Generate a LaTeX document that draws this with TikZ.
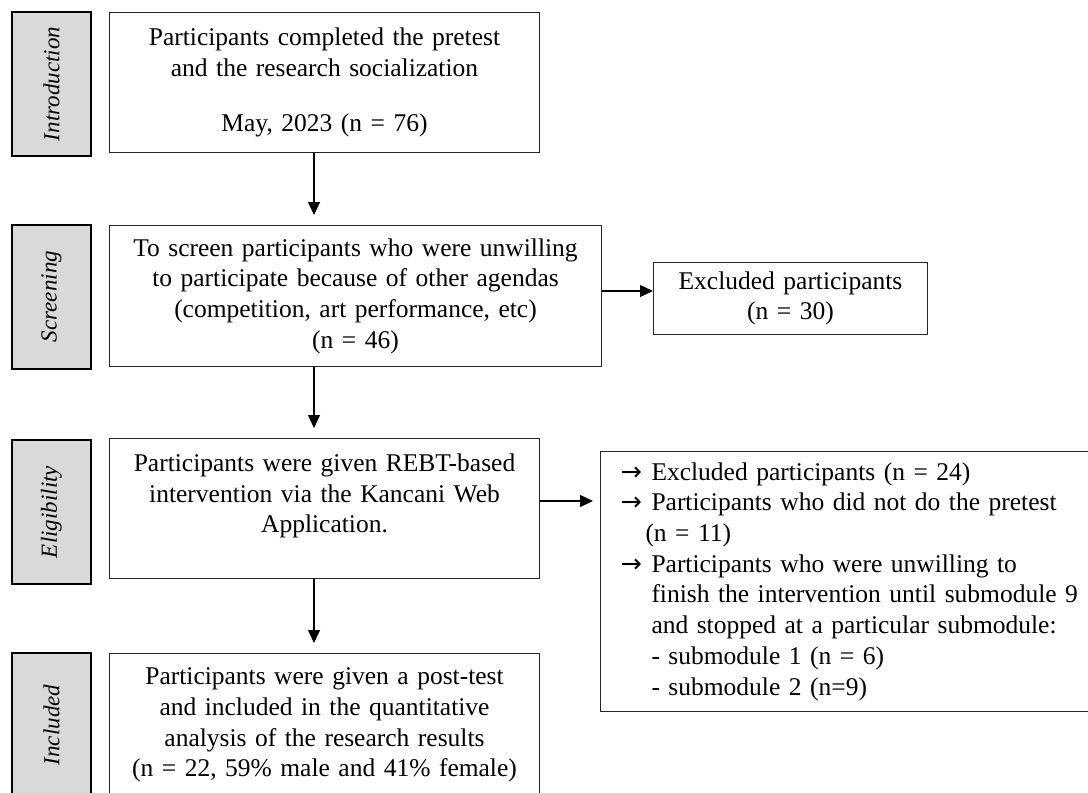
\documentclass[tikz,border=0pt]{standalone}
\usepackage{fontspec}
\setmainfont{Liberation Serif}
\newfontfamily\arrowfont{DejaVu Sans}
\usetikzlibrary{arrows.meta}
\newcommand{\bul}{\makebox[31pt][l]{\arrowfont →}}

\begin{document}
\begin{tikzpicture}[x=1pt,y=-1pt,
  box/.style={draw=black!85,line width=1pt,anchor=north west,align=center,inner xsep=5pt,font=\fontsize{25.5}{30.7}\selectfont},
  side/.style={draw,line width=2pt,fill=black!15,rotate=90,minimum width=144pt,minimum height=79pt,font=\fontsize{23}{26}\selectfont\itshape},
  arr/.style={-{Triangle[length=13pt,width=12pt]},line width=1.3pt}]
\useasboundingbox (0,0) rectangle (1088,793);
\clip (0,0) rectangle (1088,793);
\fill[white] (0,0) rectangle (1088,793);
% stage labels
\node[side] (lintro) at (51.5,84) {Introduction};
\node[side] (lscr) at (51.5,296.5) {Screening};
\node[side] (lelig) at (51.5,512) {Eligibility};
\node[side] (lincl) at (51.5,725) {Included};
% flow boxes
\node[box,text width=420pt,minimum height=140pt] (intro) at (109,12)
  {Participants completed the pretest\\ and the research socialization\\[24.5pt] May, 2023 (n = 76)};
\node[box,text width=482pt,minimum height=141pt] (scr) at (109,225)
  {To screen participants who were unwilling\\ to participate because of other agendas\\ (competition, art performance, etc)\\ (n = 46)};
\node[box,text width=420pt,minimum height=140pt] (elig) at (109,438)
  {Participants were given REBT-based\\ intervention via the Kancani Web\\ Application.\\ \mbox{}};
\node[box,text width=420pt,minimum height=143pt] (incl) at (109,653)
  {Participants were given a post-test\\ and included in the quantitative\\ analysis of the research results\\ (n = 22, 59\% male and 41\% female)};
% excluded boxes
\node[box,text width=264pt,minimum height=72pt] (exc) at (653,262)
  {Excluded participants\\ (n = 30)};
\node[box,align=left,inner xsep=20pt,text width=470pt,minimum height=260pt] (drop) at (600,451)
  {\bul Excluded participants (n = 24)\\
   \bul Participants who did not do the pretest\\
   \hspace*{25pt}(n = 11)\\
   \bul Participants who were unwilling to\\
   \hspace*{31pt}finish the intervention until submodule 9\\
   \hspace*{31pt}and stopped at a particular submodule:\\
   \hspace*{31pt}- submodule 1 (n = 6)\\
   \hspace*{31pt}- submodule 2 (n=9)};
% connectors
\coordinate (ax) at (314,0);
\coordinate (ay1) at (0,291);
\coordinate (ay2) at (0,501);
\draw[arr,shorten >=10pt] (intro.south -| ax) -- (scr.north -| ax);
\draw[arr,shorten >=10pt] (scr.south -| ax) -- (elig.north -| ax);
\draw[arr,shorten >=10pt] (elig.south -| ax) -- (incl.north -| ax);
\draw[arr] (scr.east |- ay1) -- (exc.west |- ay1);
\draw[arr,shorten >=7pt] (elig.east |- ay2) -- (drop.west |- ay2);
\end{tikzpicture}
\end{document}
